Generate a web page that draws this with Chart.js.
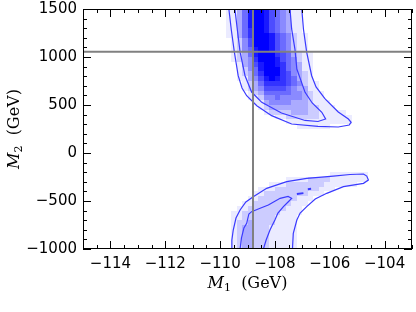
<!DOCTYPE html>
<html lang="en">
<head>
<meta charset="UTF-8">
<title>M1 vs M2</title>
<script src="https://cdn.jsdelivr.net/npm/chart.js"></script>
<style>
    body { margin: 0; background: #fff; }
    canvas { display: block; }
</style>
</head>
<body>
<canvas id="chart" width="416" height="312"></canvas>
<script>
// tick labels
const xTicks = [-114, -112, -110, -108, -106, -104];
const yTicks = [-1000, -500, 0, 500, 1000, 1500];

// reference lines (GeV)
const refM1 = -108.8;
const refM2 = 1055;

// binned density: rows from M2 = 1500 downward (50 GeV each),
// columns from M1 = -110 upward (0.2 GeV each), digits 0..9
const binM1Start = -110, binM1Width = 0.2;
const binM2Start = 1500, binM2Height = 50;
const density = [
    "011358998654311",
    "011358998654311",
    "011358998654311",
    "011358998654311",
    "011357998654311",
    "0113579998654211",
    "0012469998654211",
    "0012469998654211",
    "0012458998654211",
    "00123589997653211",
    "00123479998654211",
    "00013468998754311",
    "00012458999754311",
    "00012357999764321",
    "00011346898765321",
    "000012357777654211",
    "000012346666543311",
    "0000012355555443211",
    "0000011244544443211",
    "00000011344443332111",
    "000000012333333322111",
    "00000000122223332211111",
    "000000000011222222111111",
    "000000000000111111111111",
    "00000000000000111111",
    "", "", "", "", "", "", "", "", "",
    "000000000000000000001111111",
    "000000000000111122221111111",
    "0000000001112222222111111",
    "000000011122222222111",
    "0000001122222222111",
    "00000112222222111",
    "0000112222222111",
    "000112222222111",
    "001122222221111",
    "00112222221111",
    "00122322221111",
    "00123322211111",
    "00123322211111",
    "00123322211111",
    "00123322211111",
    "00123322211111"
];

// contours, [M1, M2]
const outerUpper = [[-109.68, 1500], [-109.59, 1281], [-109.48, 1052], [-109.34, 805], [-109.20, 677],
    [-109.03, 597], [-108.66, 493], [-108.12, 389], [-107.39, 302], [-106.43, 278], [-105.69, 271],
    [-105.29, 292], [-105.22, 320], [-105.32, 354], [-105.69, 427], [-106.17, 563], [-106.50, 688],
    [-106.66, 805], [-106.84, 1049], [-106.96, 1292], [-107.02, 1500]];
const innerUpper = [[-109.46, 1500], [-109.37, 1281], [-109.27, 1052], [-109.09, 805], [-108.85, 635],
    [-108.48, 528], [-107.76, 417], [-106.90, 339], [-106.43, 328], [-106.15, 354], [-106.29, 424],
    [-106.64, 521], [-106.90, 632], [-107.20, 875], [-107.27, 1083], [-107.39, 1292], [-107.45, 1500]];
const outerLower = [[-109.58, -1000], [-109.57, -906], [-109.52, -802], [-109.42, -677], [-109.27, -594],
    [-109.06, -510], [-108.79, -455], [-108.30, -368], [-107.57, -299], [-106.84, -264], [-105.87, -240],
    [-105.26, -224], [-104.77, -219], [-104.65, -240], [-104.59, -281], [-104.77, -316], [-105.50, -351],
    [-106.11, -420], [-106.53, -479], [-106.84, -559], [-107.08, -625], [-107.20, -698], [-107.33, -836],
    [-107.36, -1000]];
const innerLower = [[-109.27, -1000], [-109.22, -885], [-109.13, -781], [-109.03, -732], [-108.95, -635],
    [-108.85, -611], [-108.54, -576], [-108.24, -542], [-107.81, -472], [-107.52, -453], [-107.39, -472],
    [-107.52, -510], [-107.69, -559], [-107.89, -625], [-108.00, -698], [-108.11, -760], [-108.18, -802],
    [-108.32, -906], [-108.42, -1000]];
const islandA = [[-107.20, -428], [-106.96, -418]];
const islandB = [[-106.80, -377], [-106.68, -373]];

const shade = [0, 0.08, 0.2, 0.33, 0.46, 0.58, 0.7, 0.8, 0.9, 1];
const contourColor = '#3a3aff';

const fmt = v => String(v).replace('-', '\u2212');

const line = (pts, color, width) => ({
    data: pts.map(([x, y]) => ({x, y})),
    showLine: true,
    borderColor: color,
    borderWidth: width,
    pointRadius: 0,
    fill: false
});

const heatmap = {
    id: 'heatmap',
    beforeDatasetsDraw(chart) {
        const {ctx, chartArea: a, scales: {x, y}} = chart;
        ctx.save();
        ctx.beginPath();
        ctx.rect(a.left, a.top, a.width, a.height);
        ctx.clip();
        density.forEach((row, r) => {
            const top = Math.round(y.getPixelForValue(binM2Start - r * binM2Height));
            const bot = Math.round(y.getPixelForValue(binM2Start - (r + 1) * binM2Height));
            for (let c = 0; c < row.length; c++) {
                const v = +row[c];
                if (!v) continue;
                const l = Math.round(x.getPixelForValue(binM1Start + c * binM1Width));
                const rt = Math.round(x.getPixelForValue(binM1Start + (c + 1) * binM1Width));
                const k = Math.round(255 * (1 - shade[v]));
                ctx.fillStyle = `rgb(${k},${k},255)`;
                ctx.fillRect(l, top, rt - l, bot - top);
            }
        });
        ctx.restore();
    }
};

function drawTitle(ctx, sub) {
    const parts = [
        {t: 'M', f: 'italic 16px "DejaVu Serif"', dy: 0},
        {t: sub, f: '11px "DejaVu Serif"', dy: 3},
        {t: '  (GeV)', f: '16px "DejaVu Serif"', dy: 0}
    ];
    let w = 0;
    parts.forEach(p => { ctx.font = p.f; p.w = ctx.measureText(p.t).width; w += p.w; });
    let px = -w / 2;
    ctx.fillStyle = '#000';
    ctx.textAlign = 'left';
    ctx.textBaseline = 'alphabetic';
    parts.forEach(p => { ctx.font = p.f; ctx.fillText(p.t, px, p.dy); px += p.w; });
}

const frame = {
    id: 'frame',
    afterDraw(chart) {
        const {ctx, chartArea: a, scales: {x, y}} = chart;
        ctx.save();
        ctx.strokeStyle = '#000';
        ctx.lineWidth = 1;
        ctx.beginPath();
        for (let v = -115; v <= -103; v += 0.5) {
            const px = Math.round(x.getPixelForValue(v)) + 0.5;
            const len = xTicks.includes(v) ? 8 : 4;
            ctx.moveTo(px, a.bottom); ctx.lineTo(px, a.bottom - len);
            ctx.moveTo(px, a.top); ctx.lineTo(px, a.top + len);
        }
        for (let v = -1000; v <= 1500; v += 100) {
            const py = Math.round(y.getPixelForValue(v)) + 0.5;
            const len = yTicks.includes(v) ? 8 : 4;
            ctx.moveTo(a.left, py); ctx.lineTo(a.left + len, py);
            ctx.moveTo(a.right, py); ctx.lineTo(a.right - len, py);
        }
        ctx.stroke();
        ctx.strokeRect(a.left + 0.5, a.top + 0.5, a.width - 1, a.height - 1);

        ctx.save();
        ctx.translate((a.left + a.right) / 2, 288);
        drawTitle(ctx, '1');
        ctx.restore();

        ctx.save();
        ctx.translate(19, (a.top + a.bottom) / 2);
        ctx.rotate(-Math.PI / 2);
        drawTitle(ctx, '2');
        ctx.restore();

        ctx.restore();
    }
};

const tickFont = {family: 'DejaVu Sans', size: 15};

new Chart(document.getElementById('chart'), {
    type: 'scatter',
    data: {
        datasets: [
            line([[refM1, -1000], [refM1, 1500]], '#808080', 2),
            line([[-115, refM2], [-103, refM2]], '#808080', 2),
            line(outerUpper, contourColor, 1.2),
            line(innerUpper, contourColor, 1.2),
            line(outerLower, contourColor, 1.2),
            line(innerLower, contourColor, 1.2),
            line(islandA, contourColor, 2),
            line(islandB, contourColor, 2)
        ]
    },
    options: {
        responsive: false,
        animation: false,
        layout: {padding: {top: 9, right: 4, bottom: 0, left: 0}},
        plugins: {legend: {display: false}, tooltip: {enabled: false}},
        scales: {
            x: {
                type: 'linear', min: -115, max: -103,
                afterBuildTicks: s => { s.ticks = xTicks.map(v => ({value: v})); },
                afterFit: s => { s.height = 63; s.paddingLeft = 0; s.paddingRight = 0; },
                grid: {display: false, drawTicks: false},
                border: {display: false},
                ticks: {font: tickFont, color: '#000', padding: 6, maxRotation: 0, autoSkip: false, callback: fmt}
            },
            y: {
                type: 'linear', min: -1000, max: 1500,
                afterBuildTicks: s => { s.ticks = yTicks.map(v => ({value: v})); },
                afterFit: s => { s.width = 83; s.paddingTop = 0; s.paddingBottom = 0; },
                grid: {display: false, drawTicks: false},
                border: {display: false},
                ticks: {font: tickFont, color: '#000', padding: 6, autoSkip: false, callback: fmt}
            }
        }
    },
    plugins: [heatmap, frame]
});
</script>
</body>
</html>
